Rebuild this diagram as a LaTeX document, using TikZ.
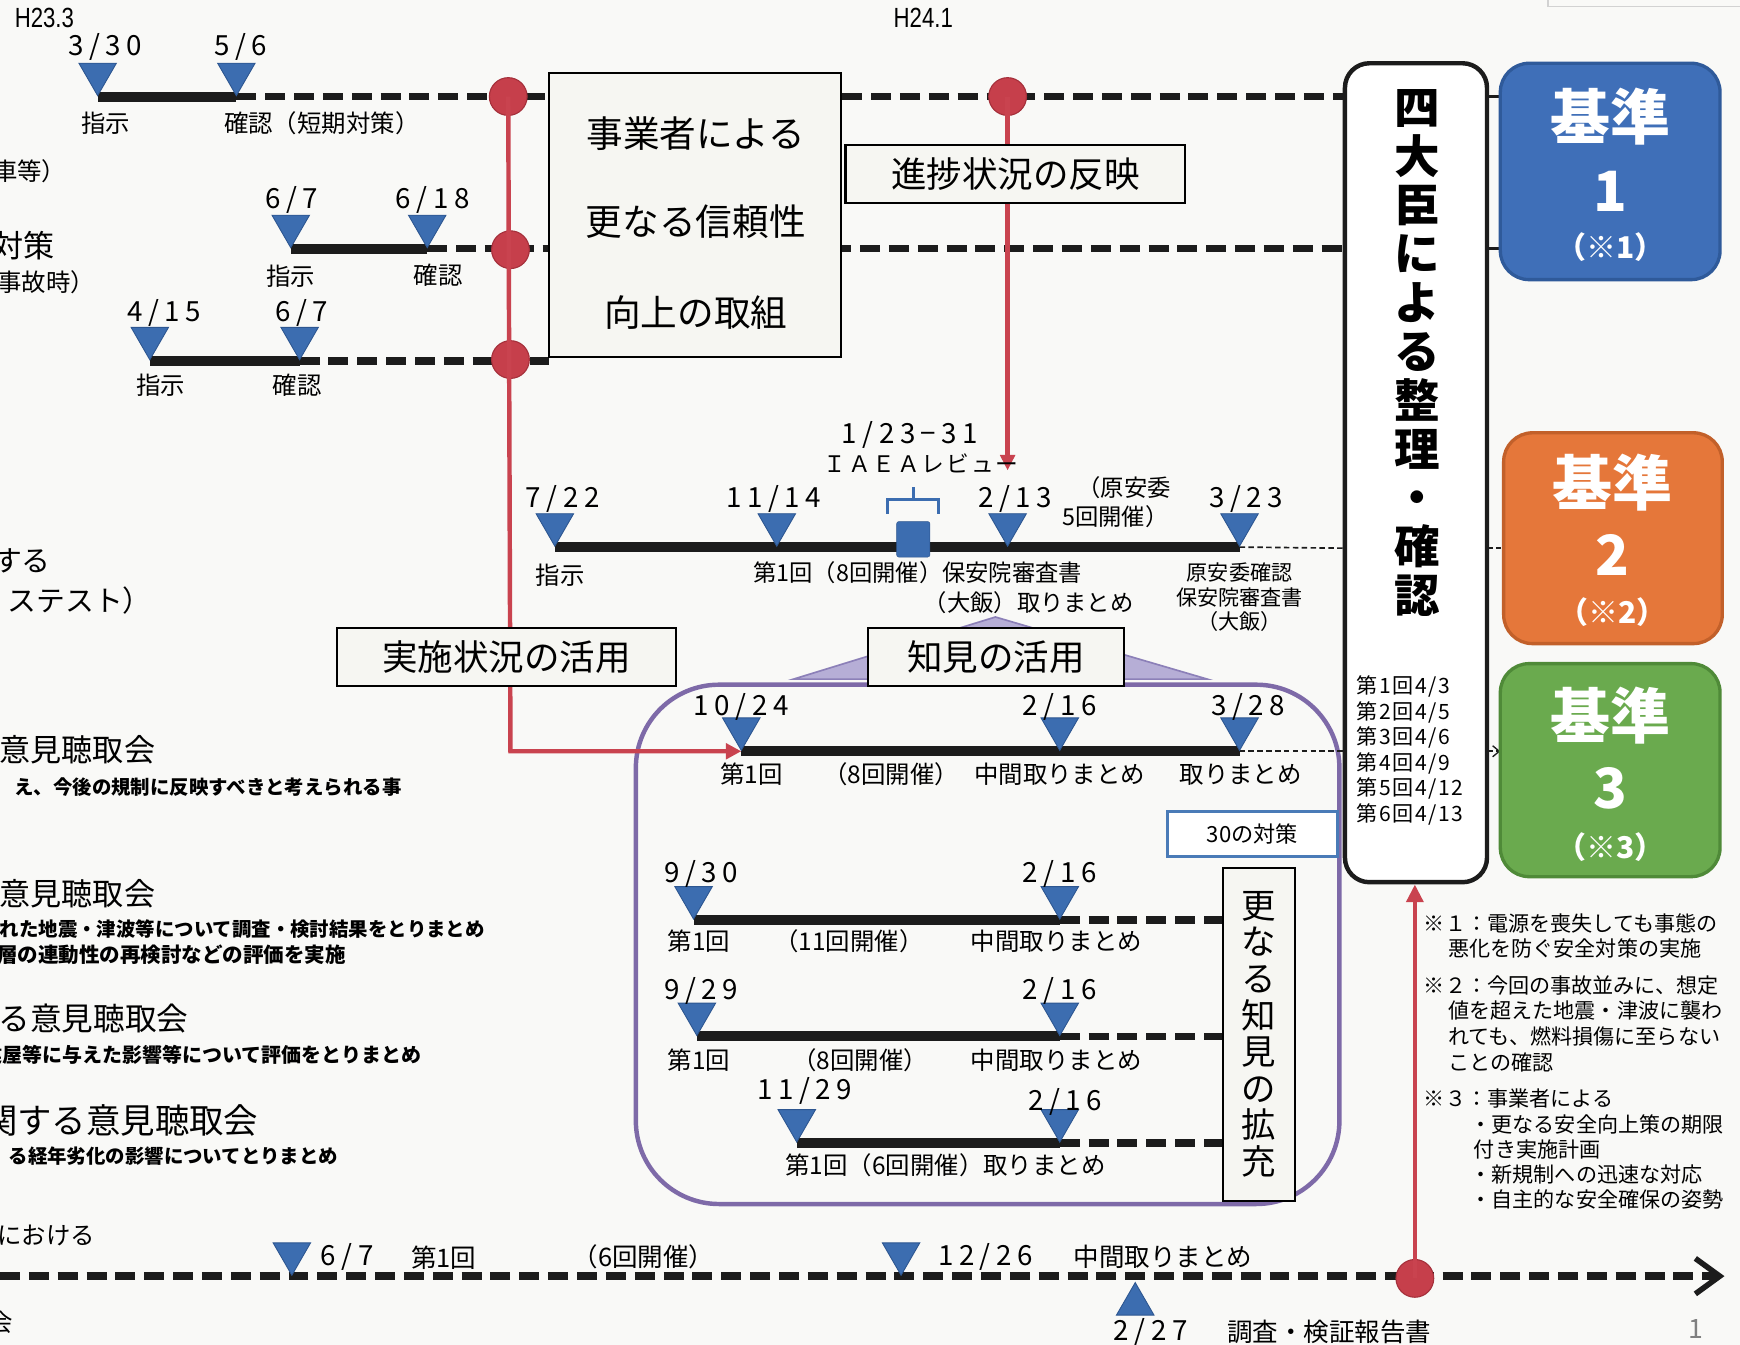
\documentclass[tikz,border=0pt]{standalone}
\usepackage{fontspec}
\setmainfont{Noto Sans CJK JP}
\newfontfamily\dtf[LetterSpace=20]{Noto Sans CJK JP}
\newfontfamily\dtg[LetterSpace=8]{Noto Sans CJK JP}
\newfontfamily\hnf[FakeStretch=0.8]{Liberation Sans}
\usetikzlibrary{shapes.geometric,arrows.meta}
\newcommand\jfs[1]{\fontsize{#1}{#1}\selectfont}
\definecolor{paper}{HTML}{F9F9F7}
\definecolor{mkblue}{HTML}{3C6DB0}
\definecolor{mkedge}{HTML}{2D5690}
\definecolor{barblk}{HTML}{1C1C1C}
\definecolor{redc}{HTML}{C63F4B}
\definecolor{reddk}{HTML}{A5303B}
\definecolor{redline}{HTML}{C9434F}
\definecolor{purp}{HTML}{7E6AA8}
\definecolor{ptrifill}{HTML}{B6AED6}
\definecolor{ptriedge}{HTML}{8C80B8}
\definecolor{boxfill}{HTML}{F6F6F2}
\definecolor{kblue}{HTML}{3F6FB8}
\definecolor{kbluedk}{HTML}{2F5A9A}
\definecolor{korange}{HTML}{E5773A}
\definecolor{korangedk}{HTML}{C2602A}
\definecolor{kgreen}{HTML}{6AAA4E}
\definecolor{kgreendk}{HTML}{4F8A38}
\definecolor{tblue}{HTML}{4A7BB7}
\begin{document}
\begin{tikzpicture}[x=1pt,y=-1pt,
  mk/.style={regular polygon, regular polygon sides=3, shape border rotate=180,
    fill=mkblue, draw=mkedge, line width=0.8, minimum size=39, inner sep=0, anchor=corner 1},
  mkup/.style={regular polygon, regular polygon sides=3,
    fill=mkblue, draw=mkedge, line width=0.8, minimum size=39, inner sep=0, anchor=corner 1},
  bar/.style={line width=9, draw=barblk},
  dsh/.style={line width=7, draw=barblk, dash pattern=on 18 off 8},
  thind/.style={line width=1.5, draw=barblk, dash pattern=on 5 off 3},
  redl/.style={line width=4, draw=redline},
  rdot/.style={circle, fill=redc, draw=reddk, line width=1, minimum size=34, inner sep=0},
  dat/.style={inner sep=0, font=\dtf\jfs{25}},
  lbl/.style={inner sep=0, font=\jfs{22}},
  note/.style={inner sep=0, anchor=west, font=\jfs{19}},
  lbox/.style={draw=black, line width=2, fill=boxfill, inner sep=0},
  big/.style={inner sep=0, font=\jfs{33}},
  kbox/.style={rounded corners=26, line width=3},
  ktxt/.style={inner sep=0, text=white, font=\bfseries\jfs{54}},
  knum/.style={inner sep=0, text=white, font=\bfseries\jfs{50}},
  kref/.style={inner sep=0, text=white, font=\bfseries\jfs{27}},
  part/.style={inner sep=0, anchor=east},
]
\useasboundingbox (0,0) rectangle (1568,1212);
\fill[paper] (0,0) rectangle (1568,1212);
\draw[gray!35, line width=1] (1395,0) -- (1395,6) -- (1568,6);

% ---------- left partial texts (cut by the page edge, as in the source) ----------
\begin{scope}
\clip (0,0) rectangle (1568,1212);
\node[part, font=\jfs{22}] (p1) at (60,154) {車等）};
\node[part, font=\jfs{28}] (p2) at (49,221) {対策};
\node[part, font=\jfs{22}] (p3) at (86,254) {事故時）};
\node[part, font=\jfs{26}] (p4) at (46,505) {する};
\node[part, font=\jfs{26}] (p5) at (137,541) {ステスト）};
\node[part, font=\jfs{28}] (p6) at (140,676) {意見聴取会};
\node[part, font=\bfseries\jfs{17.5}] (p7) at (362,709) {え、今後の規制に反映すべきと考えられる事};
\node[part, font=\jfs{28}] (p8) at (140,805) {意見聴取会};
\node[part, font=\bfseries\jfs{17.5}] (p9) at (437,837) {れた地震・津波等について調査・検討結果をとりまとめ};
\node[part, font=\bfseries\jfs{18.5}] (p10) at (312,860) {層の連動性の再検討などの評価を実施};
\node[part, font=\jfs{28.5}] (p11) at (170,918) {る意見聴取会};
\node[part, font=\bfseries\jfs{18}] (p12) at (380,951) {建屋等に与えた影響等について評価をとりまとめ};
\node[part, font=\jfs{31}] (p13) at (233,1010) {関する意見聴取会};
\node[part, font=\bfseries\jfs{17.5}] (p14) at (305,1042) {る経年劣化の影響についてとりまとめ};
\node[part, font=\jfs{22}] (p15) at (86,1113) {における};
\node[part, font=\jfs{22}] (p16) at (12,1192) {会};
\end{scope}

\node[inner sep=0, font=\hnf\jfs{25}] (h233) at (40,16) {H23.3};
\node[inner sep=0, font=\hnf\jfs{25}] (h241) at (832,16) {H24.1};

% ---------- coordinates ----------
\coordinate (r1a) at (88,87);  \coordinate (r1b) at (213,87);  \coordinate (r1e) at (1212,87);
\coordinate (r2a) at (262,224); \coordinate (r2b) at (385,224); \coordinate (r2e) at (1212,224);
\coordinate (r3a) at (135,325); \coordinate (r3b) at (270,325); \coordinate (r3e) at (495,325);
\coordinate (r4a) at (500,493); \coordinate (r4b) at (700,493); \coordinate (r4c) at (908,493);
\coordinate (r4d) at (1117,493); \coordinate (r4e) at (1212,494);
\coordinate (r5a) at (668,677); \coordinate (r5b) at (955,677); \coordinate (r5c) at (1117,677);
\coordinate (r5e) at (1212,677);
\coordinate (r6a) at (625,829); \coordinate (r6b) at (955,829); \coordinate (r6e) at (1102,829);
\coordinate (r7a) at (628,934); \coordinate (r7b) at (955,934); \coordinate (r7e) at (1102,934);
\coordinate (r8a) at (718,1030); \coordinate (r8b) at (955,1030); \coordinate (r8e) at (1102,1030);
\coordinate (bl0) at (0,1150); \coordinate (blend) at (1554,1150);
\coordinate (bt1) at (263,1150); \coordinate (bt2) at (812,1150); \coordinate (bt3) at (1023,1155);
\coordinate (rcor) at (460,677);
\coordinate (iaea) at (908,424);
\coordinate (k1a) at (1340,87); \coordinate (k1b) at (1352,87);
\coordinate (k2a) at (1340,224); \coordinate (k2b) at (1352,224);
\coordinate (k3a) at (1340,494); \coordinate (k3b) at (1355,494);
\coordinate (k4a) at (1340,677); \coordinate (k4b) at (1352,677);

% ---------- purple frame ----------
\draw[purp, line width=4, rounded corners=75] (573,617) rectangle (1207,1085);
\draw[fill=ptrifill, draw=ptriedge, line width=1.5] (715,612) -- (897,556) -- (1088,612) -- cycle;

% ---------- lines ----------
\draw[dsh] (r1b) -- (r1e);
\draw[dsh] (r2b) -- (r2e);
\draw[dsh] (r3b) -- (r3e);
\draw[dsh] (r6b) -- (r6e);
\draw[dsh] (r7b) -- (r7e);
\draw[dsh] (r8b) -- (r8e);
\draw[dsh, -{Straight Barb[length=22pt, width=32pt, line width=5pt]}] (bl0) -- (blend);
\draw[bar] (r1a) -- (r1b);
\draw[bar] (r2a) -- (r2b);
\draw[bar] (r3a) -- (r3b);
\draw[bar] (r4a) -- (r4d);
\draw[bar] (r5a) -- (r5c);
\draw[bar] (r6a) -- (r6b);
\draw[bar] (r7a) -- (r7b);
\draw[bar] (r8a) -- (r8b);
\draw[thind] (r4d) -- (r4e);
\draw[thind] (r5c) -- (r5e);
\draw[thind] (k3a) -- (k3b);
\draw[thind, -{Straight Barb[length=6pt, width=10pt, line width=1.2pt]}] (k4a) -- (k4b);
\draw[line width=3, draw=barblk] (k1a) -- (k1b);
\draw[line width=3, draw=barblk] (k2a) -- (k2b);

% ---------- red circles and lines ----------
\node[rdot] (rc1) at (458,87) {};
\node[rdot] (rc2) at (460,225) {};
\node[rdot] (rc3) at (460,324) {};
\node[rdot] (rc4) at (908,87) {};
\node[rdot] (rc5) at (1275,1152) {};
\draw[redl, -{Triangle[length=14pt, width=14pt]}] (rc1.center) -- (rcor) -- (r5a);
\draw[redl, -{Triangle[length=14pt, width=13pt]}] (rc4.center) -- (iaea);

% ---------- boxes ----------
\node[lbox, minimum width=263, minimum height=256] (jg) at (626.5,194) {};
\node[big] (jg1) at (627,120) {事業者による};
\node[big] (jg2) at (627,200) {更なる信頼性};
\node[big] (jg3) at (627,282) {向上の取組};
\node[lbox, minimum width=306, minimum height=52, font=\jfs{32}] (shin) at (915,157) {進捗状況の反映};
\node[lbox, minimum width=305, minimum height=52, font=\jfs{32}] (jisshi) at (456.5,592) {実施状況の活用};
\node[lbox, minimum width=231, minimum height=52, font=\jfs{32}] (chiken) at (897.5,592) {知見の活用};
\node[draw=tblue, line width=3, fill=white, minimum width=153, minimum height=41, inner sep=0, font=\jfs{20}] (t30) at (1128.5,751.5) {30の対策};
\node[lbox, minimum width=65, minimum height=300, align=center, font=\fontsize{31}{33}\selectfont] (sara) at (1134.5,932) {更\\な\\る\\知\\見\\の\\拡\\充};
\draw[line width=4, draw=barblk, fill=white, rounded corners=22] (1212,57) rectangle (1340,795);
\node[inner sep=0, align=center, font=\bfseries\fontsize{41}{44}\selectfont] (yon) at (1277,318) {四\\大\\臣\\に\\よ\\る\\整\\理\\・\\確\\認};
\node[inner sep=0, anchor=north west, align=left, font=\dtg\fontsize{19}{23}\selectfont] (kai) at (1222,609) {第1回4/3\\第2回4/5\\第3回4/6\\第4回4/9\\第5回4/12\\第6回4/13};
\coordinate (yonbot) at (1275,797);
\draw[redl, -{Triangle[length=16pt, width=15pt]}] (rc5.center) -- (yonbot);

% kijun boxes
\draw[kbox, fill=kblue, draw=kbluedk] (1352,57) rectangle (1550,252);
\node[ktxt] (k1t) at (1451,105) {基準};
\node[knum] (k1n) at (1451,172) {1};
\node[kref] (k1r) at (1451,223) {（※1）};
\draw[kbox, fill=korange, draw=korangedk] (1355,390) rectangle (1552,580);
\node[ktxt] (k2t) at (1453,435) {基準};
\node[knum] (k2n) at (1453,500) {2};
\node[kref] (k2r) at (1453,552) {（※2）};
\draw[kbox, fill=kgreen, draw=kgreendk] (1352,598) rectangle (1550,790);
\node[ktxt] (k3t) at (1451,645) {基準};
\node[knum] (k3n) at (1451,710) {3};
\node[kref] (k3r) at (1451,763) {（※3）};

% ---------- IAEA bracket ----------
\node[fill=mkblue, draw=mkedge, minimum width=30, minimum height=32, inner sep=0, rounded corners=2] (sq) at (823,486) {};
\draw[mkblue, line width=3] (800,463) -- (800,450) -- (846,450) -- (846,463);
\draw[mkblue, line width=3] (823,450) -- (823,439);

% ---------- markers ----------
\node[mk] (m1a) at (r1a) {}; \node[mk] (m1b) at (r1b) {};
\node[mk] (m2a) at (r2a) {}; \node[mk] (m2b) at (r2b) {};
\node[mk] (m3a) at (r3a) {}; \node[mk] (m3b) at (r3b) {};
\node[mk] (m4a) at (r4a) {}; \node[mk] (m4b) at (r4b) {}; \node[mk] (m4c) at (r4c) {}; \node[mk] (m4d) at (r4d) {};
\node[mk] (m5a) at (r5a) {}; \node[mk] (m5b) at (r5b) {}; \node[mk] (m5c) at (r5c) {};
\node[mk] (m6a) at (r6a) {}; \node[mk] (m6b) at (r6b) {};
\node[mk] (m7a) at (r7a) {}; \node[mk] (m7b) at (r7b) {};
\node[mk] (m8a) at (r8a) {}; \node[mk] (m8b) at (r8b) {};
\node[mk] (mb1) at (bt1) {}; \node[mk] (mb2) at (bt2) {};
\node[mkup] (mb3) at (bt3) {};

% ---------- dates and labels ----------
\node[dat] (d1a) at (95,42) {3/30};   \node[dat] (d1b) at (217,42) {5/6};
\node[lbl] (l1a) at (95,111) {指示};   \node[lbl] (l1b) at (290,111) {確認（短期対策）};
\node[dat] (d2a) at (263,180) {6/7};  \node[dat] (d2b) at (390,180) {6/18};
\node[lbl] (l2a) at (262,249) {指示};  \node[lbl] (l2b) at (395,248) {確認};
\node[dat] (d3a) at (148,282) {4/15}; \node[dat] (d3b) at (272,282) {6/7};
\node[lbl] (l3a) at (145,347) {指示};  \node[lbl] (l3b) at (268,347) {確認};

\node[dat] (d4a) at (507,450) {7/22};
\node[dat] (d4b) at (697,450) {11/14};
\node[dat] (d4c) at (915,450) {2/13};
\node[dat] (d4d) at (1123,450) {3/23};
\node[dat] (d4i) at (820,392) {1/23−31};
\node[inner sep=0, font=\dtg\jfs{20.5}] (d4r) at (830,418) {ＩＡＥＡレビュー};
\node[inner sep=0, font=\jfs{21}] (d4g1) at (1013,439) {（原安委};
\node[inner sep=0, font=\jfs{21}] (d4g2) at (1005,466) {5回開催）};
\node[lbl] (l4a) at (505,518) {指示};
\node[inner sep=0, font=\jfs{21}] (l4b) at (827,516) {第1回（8回開催）保安院審査書};
\node[inner sep=0, font=\jfs{21}] (l4c) at (927,543) {（大飯）取りまとめ};
\node[inner sep=0, font=\jfs{19}] (l4d) at (1117,516) {原安委確認};
\node[inner sep=0, font=\jfs{19}] (l4e) at (1117,538) {保安院審査書};
\node[inner sep=0, font=\jfs{19}] (l4f) at (1117,560) {（大飯）};

\node[dat] (d5a) at (668,637) {10/24};
\node[dat] (d5b) at (955,637) {2/16};
\node[dat] (d5c) at (1125,637) {3/28};
\node[lbl] (l5a) at (677,698) {第1回};
\node[lbl] (l5b) at (803,698) {（8回開催）};
\node[lbl] (l5c) at (955,698) {中間取りまとめ};
\node[lbl] (l5d) at (1118,698) {取りまとめ};

\node[dat] (d6a) at (632,788) {9/30};
\node[dat] (d6b) at (955,788) {2/16};
\node[lbl] (l6a) at (630,848) {第1回};
\node[lbl] (l6b) at (765,848) {（11回開催）};
\node[lbl] (l6c) at (952,848) {中間取りまとめ};

\node[dat] (d7a) at (632,893) {9/29};
\node[dat] (d7b) at (955,893) {2/16};
\node[lbl] (l7a) at (630,955) {第1回};
\node[lbl] (l7b) at (775,955) {（8回開催）};
\node[lbl] (l7c) at (952,955) {中間取りまとめ};

\node[dat] (d8a) at (725,983) {11/29};
\node[dat] (d8b) at (960,993) {2/16};
\node[lbl] (l8a) at (852,1050) {第1回（6回開催）取りまとめ};

\node[dat] (db1) at (313,1133) {6/7};
\node[lbl, font=\jfs{23}] (lb1) at (400,1133) {第1回};
\node[lbl, font=\jfs{23}] (lb2) at (580,1133) {（6回開催）};
\node[dat] (db2) at (888,1133) {12/26};
\node[lbl, font=\jfs{23}] (lb3) at (1048,1133) {中間取りまとめ};
\node[dat] (db3) at (1037,1200) {2/27};
\node[lbl, font=\jfs{23}] (lb4) at (1198,1200) {調査・検証報告書};
\node[inner sep=0, font=\jfs{24}, text=gray] (pg) at (1528,1198) {1};

% ---------- notes ----------
\node[note] (n1) at (1283,832) {※１：電源を喪失しても事態の};
\node[note] (n2) at (1305,855) {悪化を防ぐ安全対策の実施};
\node[note] (n3) at (1283,888) {※２：今回の事故並みに、想定};
\node[note] (n4) at (1305,911) {値を超えた地震・津波に襲わ};
\node[note] (n5) at (1305,934) {れても、燃料損傷に至らない};
\node[note] (n6) at (1305,957) {ことの確認};
\node[note] (n7) at (1283,990) {※３：事業者による};
\node[note] (n8) at (1325,1013) {・更なる安全向上策の期限};
\node[note] (n9) at (1328,1036) {付き実施計画};
\node[note] (n10) at (1325,1058) {・新規制への迅速な対応};
\node[note] (n11) at (1325,1081) {・自主的な安全確保の姿勢};
\end{tikzpicture}
\end{document}
